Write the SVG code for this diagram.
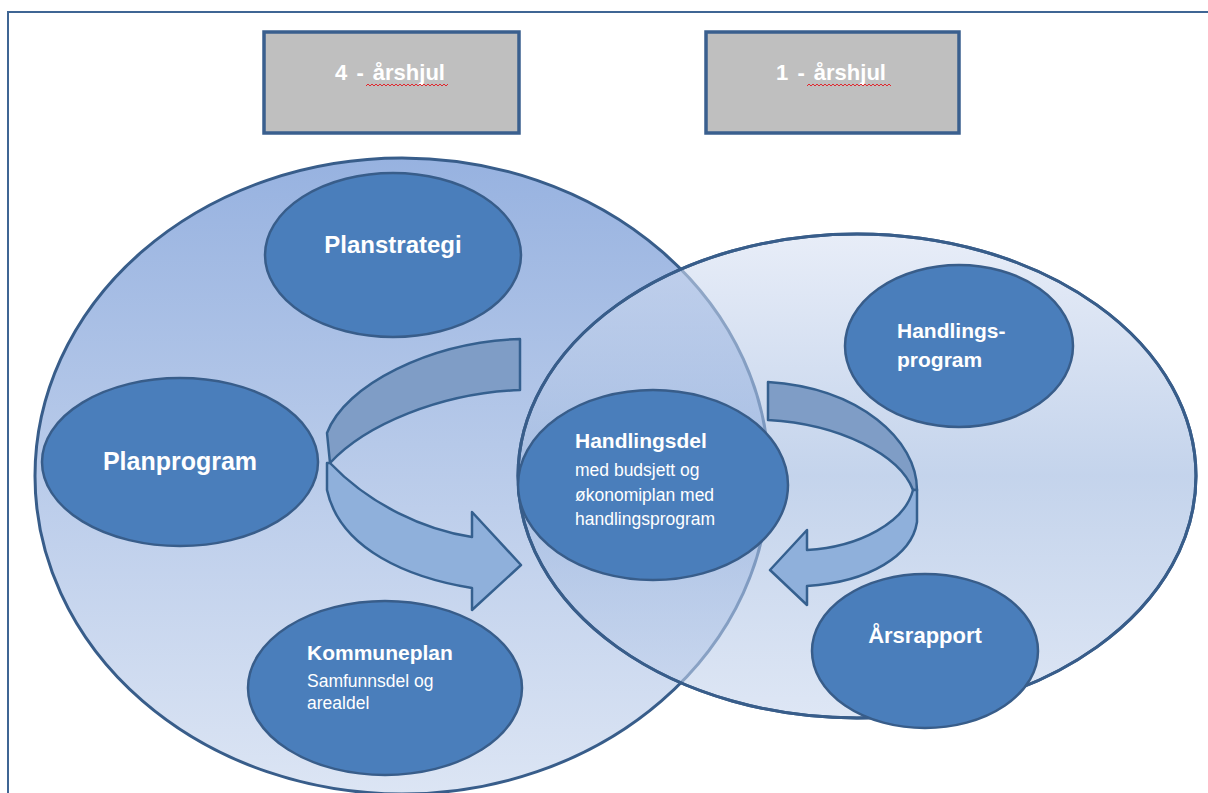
<svg xmlns="http://www.w3.org/2000/svg" width="1208" height="793" viewBox="0 0 1208 793">
<defs>
<linearGradient id="gL" x1="0" y1="0" x2="0" y2="1">
<stop offset="0" stop-color="#97b2e0"/>
<stop offset="1" stop-color="#dce5f4"/>
</linearGradient>
<linearGradient id="gR" x1="0" y1="0" x2="0" y2="1">
<stop offset="0" stop-color="#d8e1f3"/>
<stop offset="0.5" stop-color="#9db7df"/>
<stop offset="1" stop-color="#c8d6ee"/>
</linearGradient>
<style>
.big{stroke:#385d8a;stroke-width:3}
.node{fill:#4a7ebb;stroke:#385d8a;stroke-width:2.5}
.box{fill:#bfbfbf;stroke:#3a5f8e;stroke-width:3.5}
.t{font-family:"Liberation Sans",Arial,sans-serif;fill:#ffffff}
.b{font-weight:bold}
.arD{fill:#7f9dc6;stroke:#35608f;stroke-width:2.5;stroke-linejoin:round}
.arL{fill:#8fb0db;stroke:#35608f;stroke-width:2.5;stroke-linejoin:round}
.sq{fill:none;stroke:#e0282e;stroke-width:1}
</style>
</defs>
<rect x="0" y="0" width="1208" height="793" fill="#ffffff"/>
<rect x="8" y="12" width="1230" height="800" fill="none" stroke="#3f6594" stroke-width="2"/>

<g id="box-4">
<rect class="box" x="264" y="32" width="255" height="101"/>
<text class="t b" x="390" y="80" font-size="22" text-anchor="middle" word-spacing="3">4 - årshjul</text>
<path class="sq" d="M366,86 l2,-2 l2,2 l2,-2 l2,2 l2,-2 l2,2 l2,-2 l2,2 l2,-2 l2,2 l2,-2 l2,2 l2,-2 l2,2 l2,-2 l2,2 l2,-2 l2,2 l2,-2 l2,2 l2,-2 l2,2 l2,-2 l2,2 l2,-2 l2,2 l2,-2 l2,2 l2,-2 l2,2 l2,-2 l2,2 l2,-2 l2,2 l2,-2 l2,2 l2,-2 l2,2 l2,-2 l2,2 l2,-2"/>
</g>
<g id="box-1">
<rect class="box" x="706" y="32" width="253" height="101"/>
<text class="t b" x="831" y="80" font-size="22" text-anchor="middle" word-spacing="3">1 - årshjul</text>
<path class="sq" d="M807,86 l2,-2 l2,2 l2,-2 l2,2 l2,-2 l2,2 l2,-2 l2,2 l2,-2 l2,2 l2,-2 l2,2 l2,-2 l2,2 l2,-2 l2,2 l2,-2 l2,2 l2,-2 l2,2 l2,-2 l2,2 l2,-2 l2,2 l2,-2 l2,2 l2,-2 l2,2 l2,-2 l2,2 l2,-2 l2,2 l2,-2 l2,2 l2,-2 l2,2 l2,-2 l2,2 l2,-2 l2,2 l2,-2 l2,2"/>
</g>

<g id="wheel-4">
<ellipse class="big" cx="402" cy="476" rx="367" ry="318" fill="url(#gL)"/>
</g>

<g id="planstrategi">
<ellipse class="node" cx="393" cy="255" rx="128" ry="82"/>
<text class="t b" x="393" y="253" font-size="24" text-anchor="middle">Planstrategi</text>
</g>
<g id="planprogram">
<ellipse class="node" cx="180" cy="462" rx="138" ry="84"/>
<text class="t b" x="180" y="470" font-size="25" text-anchor="middle">Planprogram</text>
</g>
<g id="kommuneplan">
<ellipse class="node" cx="385" cy="688" rx="137" ry="87"/>
<text class="t b" x="307" y="660" font-size="21">Kommuneplan</text>
<text class="t" x="307" y="687" font-size="17.5">Samfunnsdel og</text>
<text class="t" x="307" y="709" font-size="17.5">arealdel</text>
</g>

<g id="wheel-1">
<ellipse class="big" cx="857" cy="476" rx="339" ry="242" fill="url(#gR)" fill-opacity="0.6"/>
<ellipse cx="857" cy="476" rx="339" ry="242" fill="none" stroke="#385d8a" stroke-width="3"/>
</g>

<g id="handlingsdel">
<ellipse class="node" cx="653" cy="485" rx="135" ry="95"/>
<text class="t b" x="575" y="448" font-size="21">Handlingsdel</text>
<text class="t" x="575" y="476" font-size="17.5">med budsjett og</text>
<text class="t" x="575" y="501" font-size="17.5">økonomiplan med</text>
<text class="t" x="575" y="525" font-size="17.5">handlingsprogram</text>
</g>
<g id="handlingsprogram">
<ellipse class="node" cx="959" cy="346" rx="114" ry="81"/>
<text class="t b" x="897" y="338" font-size="21">Handlings-</text>
<text class="t b" x="897" y="367" font-size="21">program</text>
</g>
<g id="arsrapport">
<ellipse class="node" cx="925" cy="651" rx="113" ry="77"/>
<text class="t b" x="925" y="643" font-size="22" text-anchor="middle">Årsrapport</text>
</g>

<g id="connectors">
<path class="arD" d="M520,339 L520,390 C440,393 365,425 330,463 L327,433 C345,385 430,342 520,339 Z"/>
<path class="arL" d="M330,463 C370,505 425,530 472,537 L472,512 L521,565 L472,610 L472,588 C410,578 340,550 327,490 L327,463 Z"/>
<path class="arD" d="M768,382 L768,420 C840,424 900,455 913,490 L917,490 C917,440 860,388 768,382 Z"/>
<path class="arL" d="M913,490 C905,522 860,547 807,550 L807,530 L770,570 L807,605 L807,586 C870,582 912,555 917,522 L917,490 Z"/>
</g>
</svg>
